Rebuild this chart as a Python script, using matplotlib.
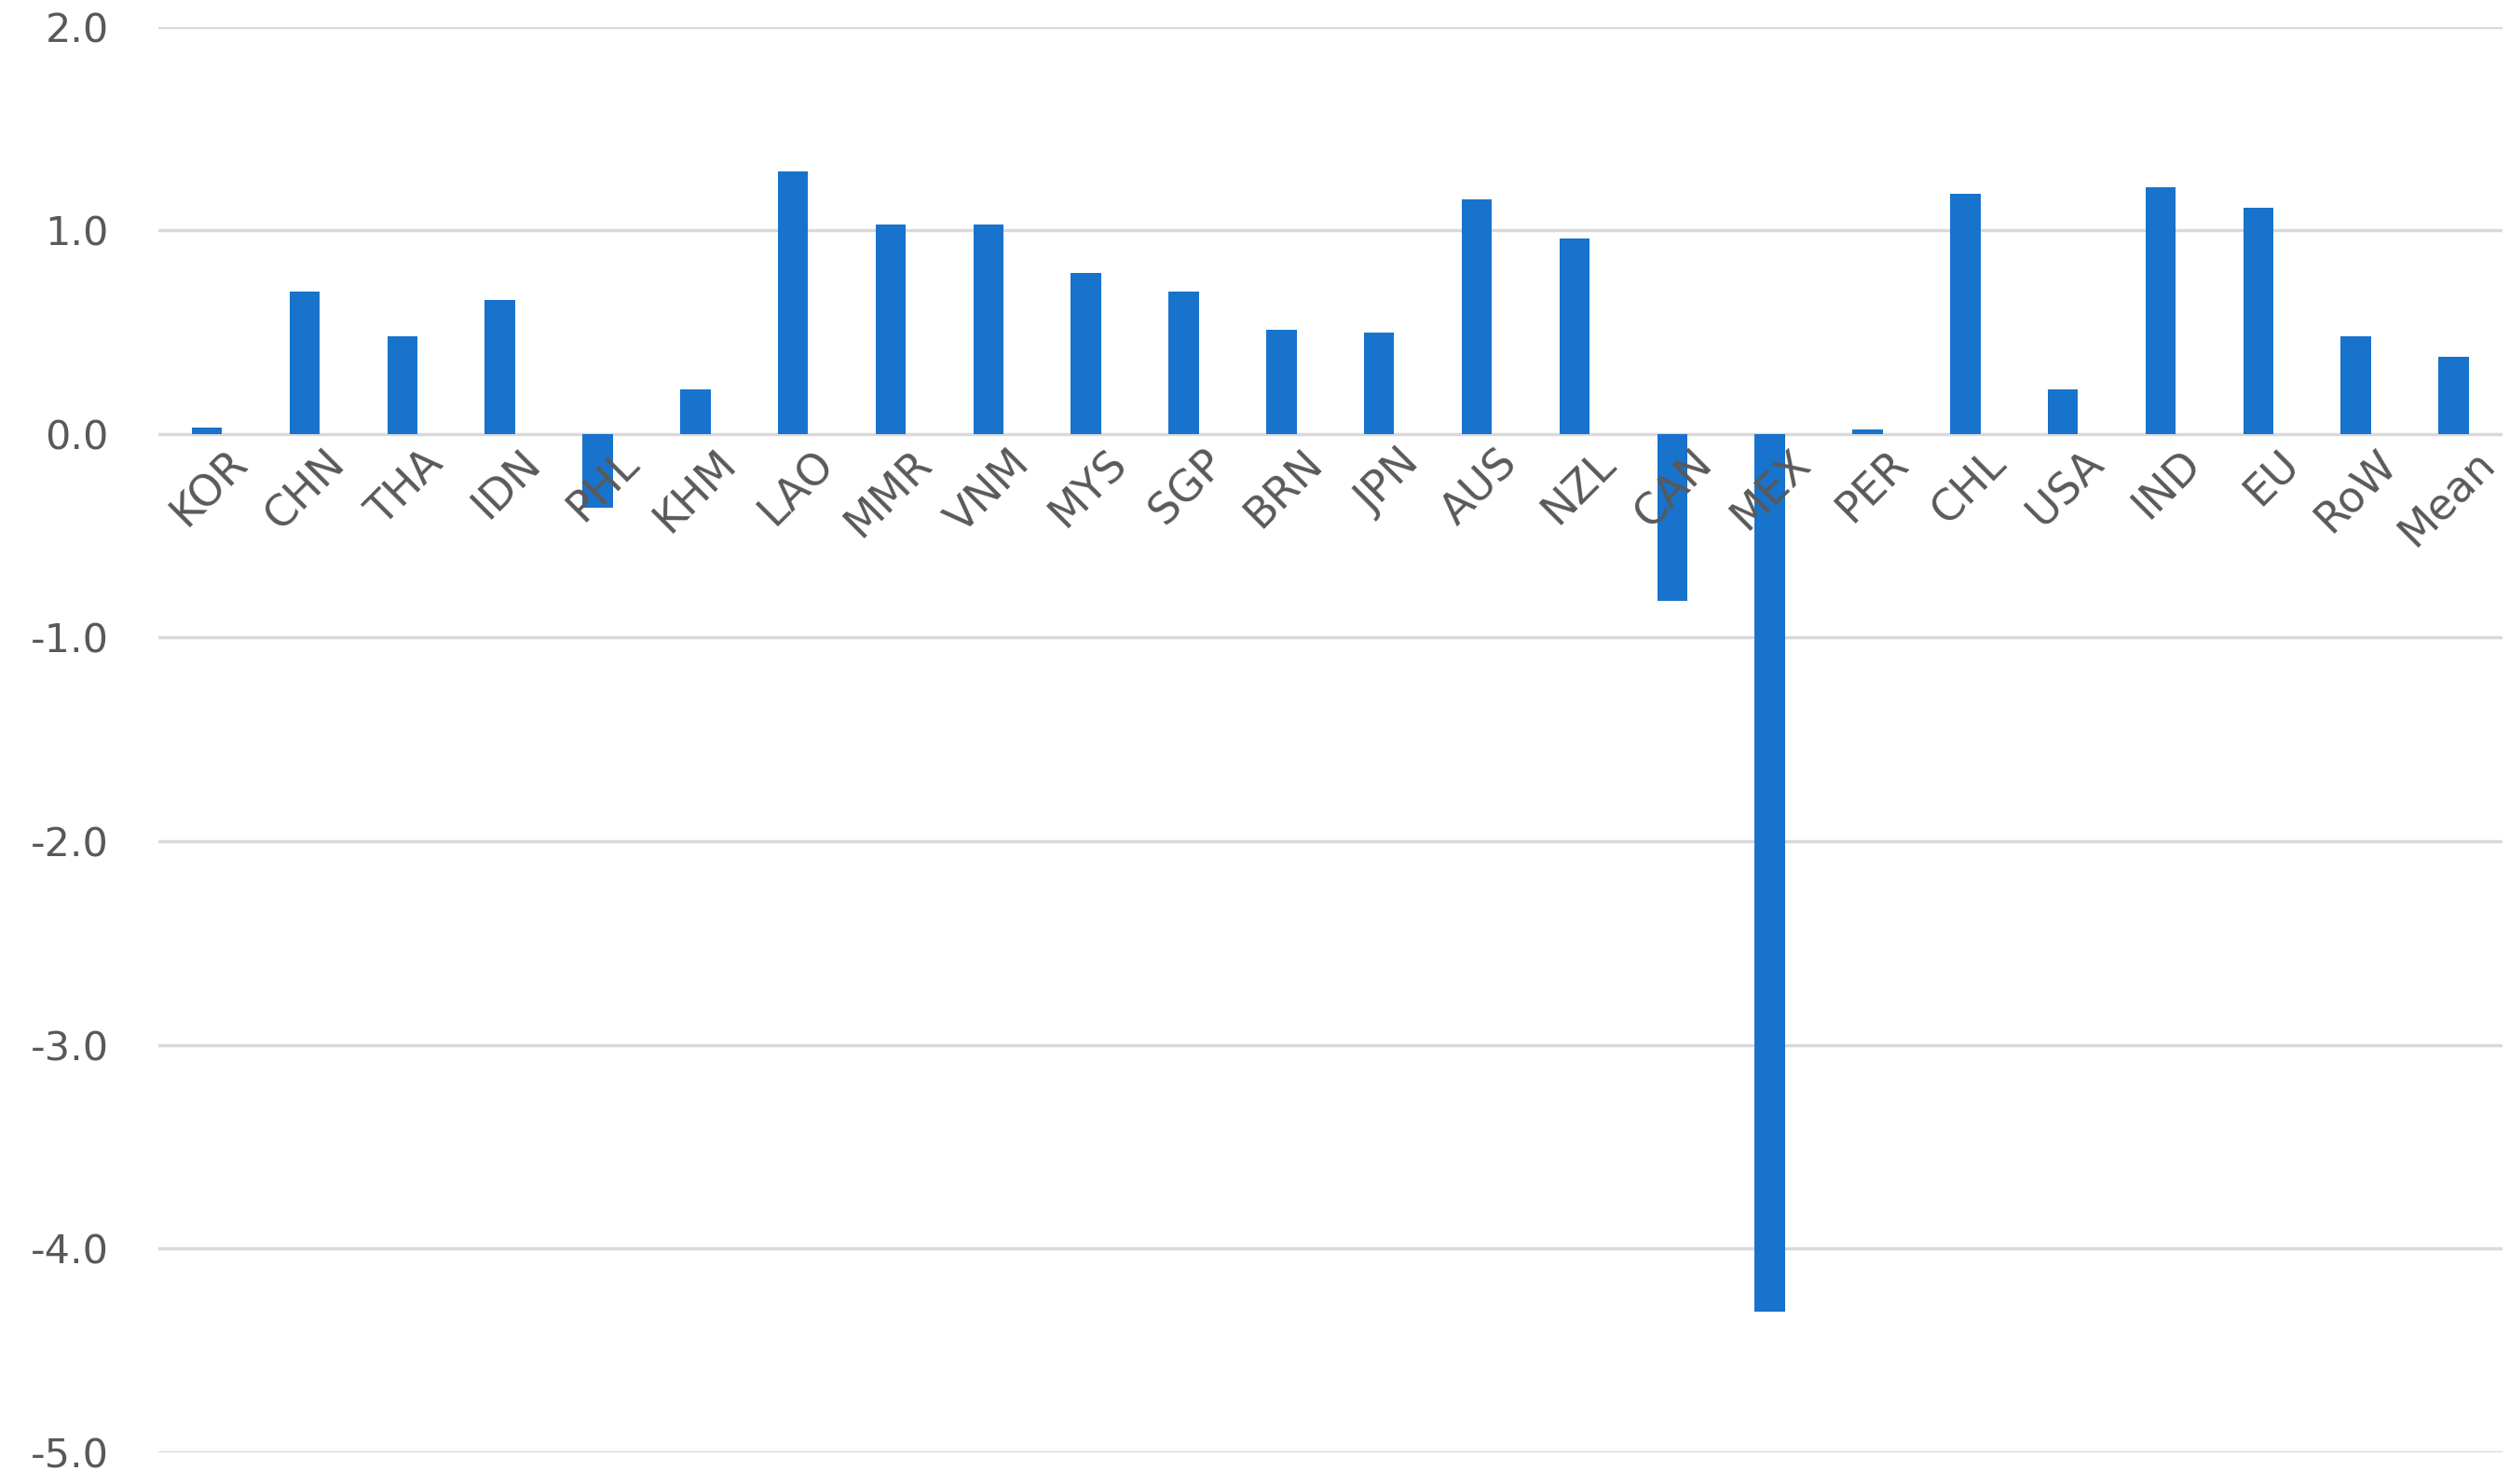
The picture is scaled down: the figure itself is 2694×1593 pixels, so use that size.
import matplotlib.pyplot as plt
import numpy as np

categories = ["KOR", "CHN", "THA", "IDN", "PHL", "KHM", "LAO", "MMR", "VNM", "MYS",
              "SGP", "BRN", "JPN", "AUS", "NZL", "CAN", "MEX", "PER", "CHL", "USA",
              "IND", "EU", "RoW", "Mean"]
values = [0.03, 0.70, 0.48, 0.66, -0.36, 0.22, 1.29, 1.03, 1.03, 0.79,
          0.70, 0.51, 0.50, 1.15, 0.96, -0.82, -4.31, 0.02, 1.18, 0.22,
          1.21, 1.11, 0.48, 0.38]
yticks = [2.0, 1.0, 0.0, -1.0, -2.0, -3.0, -4.0, -5.0]

BAR_COLOR = "#1873cc"
TEXT_COLOR = "#595959"

fig = plt.figure(figsize=(26.94, 15.93), dpi=100, facecolor="white")
ax = fig.add_axes([0.063, 0.0215, 0.934, 0.9605])

x = np.arange(len(categories))
ax.bar(x, values, width=0.31, color=BAR_COLOR, zorder=3)

ax.set_xlim(-0.5, len(categories) - 0.5)
ax.set_ylim(-5.0, 2.0)
ax.set_yticks(yticks)
ax.set_yticklabels([f"{v:.1f}" for v in yticks], fontsize=31, color=TEXT_COLOR)
ax.tick_params(axis="y", length=0, pad=38)
ax.set_xticks([])
ax.grid(axis="y", color="#d9d9d9", linewidth=2.5, zorder=0)
for s in ax.spines.values():
    s.set_visible(False)

for i, label in enumerate(categories):
    ax.text(i + 0.2, -0.04, label, rotation=45, ha="right", va="top",
            rotation_mode="anchor", fontsize=33, color=TEXT_COLOR, zorder=4)

fig.savefig("out.png", dpi=100, facecolor="white")
